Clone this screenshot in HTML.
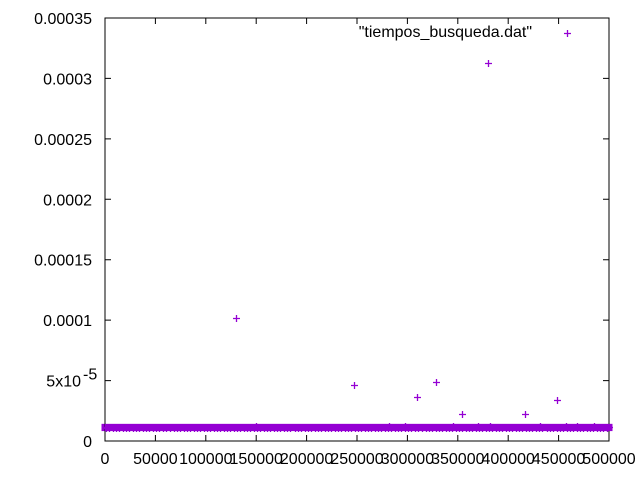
<!DOCTYPE html>
<html><head><meta charset="utf-8"><style>
body{margin:0;background:#fff}
svg text{font-family:"Liberation Sans",sans-serif;font-size:16px;fill:#000}
.pt{stroke:#9400d3;stroke-width:1.3;fill:none}
</style></head><body>
<svg id="chart" width="640" height="480">
<g id="band"></g>
<rect x="105" y="18" width="504" height="423" fill="none" stroke="#000" stroke-width="1"/>
<g id="axes"></g>
<g id="points"></g>
<text x="532" y="37" text-anchor="end">"tiempos_busqueda.dat"</text>
</svg>
<script>
const xTicks=[0,50000,100000,150000,200000,250000,300000,350000,400000,450000,500000];
const yTicks=[0,0.00005,0.0001,0.00015,0.0002,0.00025,0.0003,0.00035];
const yTickLabels=["0","5x10","0.0001","0.00015","0.0002","0.00025","0.0003","0.00035"];
const outX=[130000,247000,310000,328000,354000,380000,417000,448000,150000,282000,298000,345000,370000,382000,432000,457000,468000,485000];
const outY=[0.000102,0.000046,0.000036,0.000049,0.000022,0.000313,0.000022,0.000034,0.0000125,0.0000125,0.0000125,0.0000125,0.0000125,0.0000125,0.0000125,0.0000125,0.0000125,0.0000125];
const bandY=[0.0000112,0.0000111,0.0000113,0.0000112,0.0000111,0.0000112,0.0000113,0.0000112,0.0000111,0.0000112];
const bandStep=1000;
const X0=105,X1=609,Y0=441,Y1=18;
const sx=v=>X0+v/500000*(X1-X0);
const sy=v=>Y0-v/0.00035*(Y0-Y1);
const NS="http://www.w3.org/2000/svg";
const ax=document.getElementById('axes'),pts=document.getElementById('points'),bd=document.getElementById('band');
function mk(tag,attrs,parent){const e=document.createElementNS(NS,tag);for(const k in attrs)e.setAttribute(k,attrs[k]);parent.appendChild(e);return e;}
xTicks.forEach((t,i)=>{const x=sx(t);
 const a=mk('path',{d:`M${x},${Y0}v-6M${x},${Y1}v6`,stroke:'#000'},ax);
 
 
 const l=mk('text',{x:x,y:464,'text-anchor':'middle'},ax);l.textContent=t;
 
 
});
yTicks.forEach((t,i)=>{const y=sy(t);
 const a=mk('path',{d:`M${X0},${y}h6M${X1},${y}h-6`,stroke:'#000'},ax);
 
 
 const l=mk('text',{x:i==1?81:92,y:y+6,'text-anchor':'end'},ax);l.textContent=yTickLabels[i];
 
 
 if(i==1){const s=mk('text',{x:83,y:y-1,'font-size':'12px'},ax);s.textContent='-5';
  
  }
});
// dense band: vertical arm of each cross fills solid
const bMin=Math.min(...bandY),bMax=Math.max(...bandY);
const br=mk('rect',{x:sx(0)-3.5,y:sy(bMax)-3.5,width:sx(500000)-sx(0)+7,height:sy(bMin)-sy(bMax)+7,fill:'#9400d3'},bd);


function plus(x,y,name){x=Math.round(x)+0.5;y=Math.round(y)+0.5;
 const p=mk('path',{d:`M${x-3.5},${y}h7M${x},${y-3.5}v7`,'class':'pt'},pts);
 p.style.stroke='#9400d3';
 
 }
for(let i=0;i*bandStep<=500000;i++){plus(sx(i*bandStep),sy(bandY[i%bandY.length]),'data-point');}
outX.forEach((v,i)=>plus(sx(v),sy(outY[i]),'data-point'));
plus(567,33,'legend-sample');
</script>
</body></html>
